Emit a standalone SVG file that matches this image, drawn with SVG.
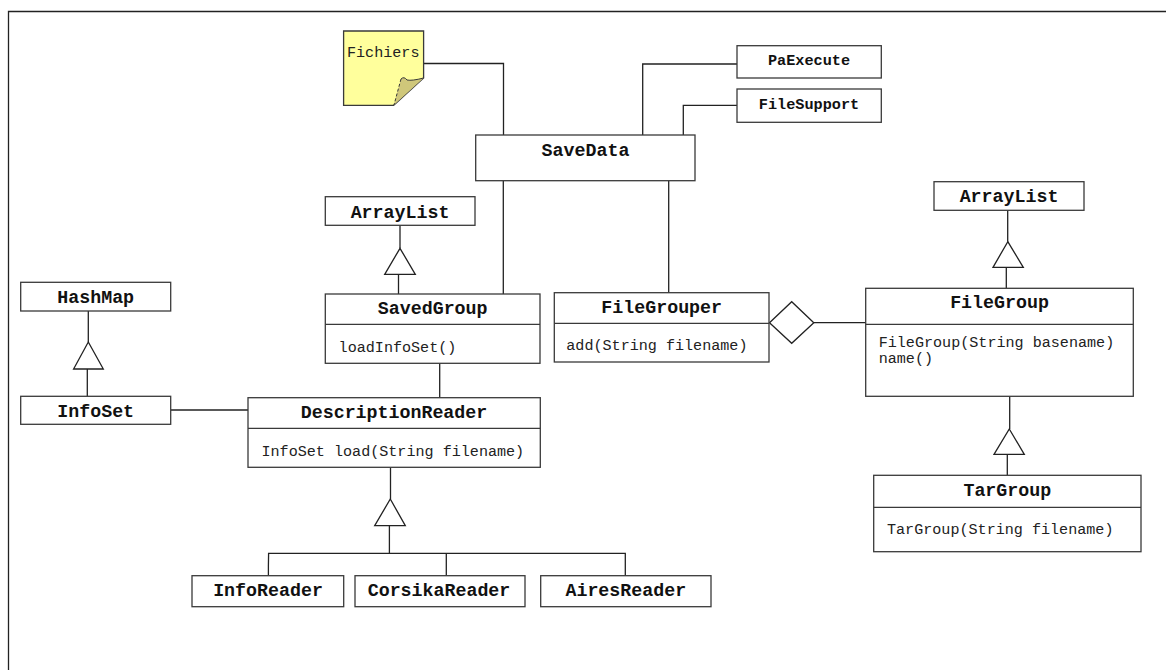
<svg xmlns="http://www.w3.org/2000/svg" width="1166" height="670" viewBox="0 0 1166 670">
<style>
.box{fill:#fff;stroke:#3a3a3a;stroke-width:1.3}
.ln{fill:none;stroke:#222;stroke-width:1.3}
.tri{fill:#fff;stroke:#222;stroke-width:1.3}
.h{font-family:"Liberation Mono",monospace;font-weight:bold;font-size:18.3px;fill:#111;text-anchor:middle}
.s{font-family:"Liberation Mono",monospace;font-weight:bold;font-size:15.2px;fill:#111;text-anchor:middle}
.m{font-family:"Liberation Mono",monospace;font-size:15.1px;fill:#222}
</style>
<rect width="1166" height="670" fill="#fff"/>
<path class="ln" d="M8.5,670 V11.5 H1166"/>

<g id="connectors">
  <!-- Fichiers to SaveData -->
  <path class="ln" d="M423.6,63.5 H503.5 V135"/>
  <!-- PaExecute / FileSupport -->
  <path class="ln" d="M737,64 H642.7 V135"/>
  <path class="ln" d="M737,105.3 H683.3 V135"/>
  <!-- SaveData to SavedGroup / FileGrouper -->
  <path class="ln" d="M503.3,181 V294"/>
  <path class="ln" d="M668.7,181 V292.7"/>
  <!-- ArrayList left <- SavedGroup -->
  <path class="ln" d="M400,225.3 V248.3"/>
  <polygon class="tri" points="400,248.3 415.3,274.3 384.7,274.3"/>
  <path class="ln" d="M398.5,274.3 V294"/>
  <!-- HashMap <- InfoSet -->
  <path class="ln" d="M88.3,311 V342"/>
  <polygon class="tri" points="88.3,342 103.3,369 73.6,369"/>
  <path class="ln" d="M87.3,369 V396.3"/>
  <!-- InfoSet - DescriptionReader -->
  <path class="ln" d="M170.7,410 H248"/>
  <!-- SavedGroup - DescriptionReader -->
  <path class="ln" d="M439.7,363.3 V397.7"/>
  <!-- DescriptionReader <- readers -->
  <path class="ln" d="M390.5,467.3 V499"/>
  <polygon class="tri" points="390.3,499 405.3,525.7 374.7,525.7"/>
  <path class="ln" d="M389.4,525.7 V553.3"/>
  <path class="ln" d="M268.4,575.7 V566 L268.6,553.3 H625.3 V575.7"/>
  <path class="ln" d="M446.3,553.3 V575.7"/>
  <!-- FileGrouper <>- FileGroup -->
  <polygon class="tri" points="769.5,322.7 791.7,301.7 813.8,322.7 791.7,343.3"/>
  <path class="ln" d="M813.8,322.7 H865.7"/>
  <!-- ArrayList right <- FileGroup -->
  <path class="ln" d="M1007.7,210.3 V241.7"/>
  <polygon class="tri" points="1007.8,241.7 1023.3,267.3 993,267.3"/>
  <path class="ln" d="M1006.3,267.3 V288.3"/>
  <!-- FileGroup <- TarGroup -->
  <path class="ln" d="M1009.7,396.3 V429"/>
  <polygon class="tri" points="1009.3,429 1024.3,454.3 994,454.3"/>
  <path class="ln" d="M1007.3,454.3 V475.3"/>
</g>

<g id="Fichiers">
  <polygon points="343.6,31 423.6,31 423.6,78 393.6,105.3 343.6,105.3" fill="#ffff9c" stroke="#3a3a3a" stroke-width="1.3"/>
  <path d="M401,79 Q404,76 407,80 Q412,81 423.6,78 L393.6,105.3 Z" fill="#cfc77a" stroke="none"/>
  <path d="M401,79 Q404,76 407,80 Q412,81 423.6,78" fill="none" stroke="#3a3a3a" stroke-width="1"/>
  <path d="M401,79 L394,105" fill="none" stroke="#3a3a3a" stroke-width="1" stroke-dasharray="3,2"/>
  <text class="m" x="347" y="57" fill="#111">Fichiers</text>
</g>

<g id="PaExecute">
  <rect class="box" x="737" y="45.7" width="144.3" height="32.3"/>
  <text class="s" x="809" y="65">PaExecute</text>
</g>
<g id="FileSupport">
  <rect class="box" x="737" y="89" width="144.3" height="33.3"/>
  <text class="s" x="809" y="109.3">FileSupport</text>
</g>

<g id="SaveData">
  <rect class="box" x="475.7" y="135" width="219.3" height="45.7"/>
  <text class="h" x="585.5" y="155.5">SaveData</text>
</g>

<g id="ArrayList1">
  <rect class="box" x="325.3" y="196.7" width="149.7" height="28.6"/>
  <text class="h" x="400" y="217.5">ArrayList</text>
</g>

<g id="HashMap">
  <rect class="box" x="20.7" y="282.3" width="150" height="28.7"/>
  <text class="h" x="95.7" y="303.3">HashMap</text>
</g>

<g id="SavedGroup">
  <rect class="box" x="325.3" y="294" width="214.7" height="69.3"/>
  <path class="box" d="M325.3,324.3 H540"/>
  <text class="h" x="432.7" y="313.5">SavedGroup</text>
  <text class="m" x="338.6" y="351.7">loadInfoSet()</text>
</g>

<g id="InfoSet">
  <rect class="box" x="20.7" y="396.3" width="150" height="28"/>
  <text class="h" x="95.7" y="416.7">InfoSet</text>
</g>

<g id="DescriptionReader">
  <rect class="box" x="248" y="397.7" width="292.3" height="69.6"/>
  <path class="box" d="M248,428.3 H540.3"/>
  <text class="h" x="394" y="418.3">DescriptionReader</text>
  <text class="m" x="261.5" y="455.7">InfoSet load(String filename)</text>
</g>

<g id="InfoReader">
  <rect class="box" x="192" y="575.7" width="151.7" height="31"/>
  <text class="h" x="268" y="596">InfoReader</text>
</g>
<g id="CorsikaReader">
  <rect class="box" x="355" y="575.7" width="170" height="31"/>
  <text class="h" x="439" y="596">CorsikaReader</text>
</g>
<g id="AiresReader">
  <rect class="box" x="540.7" y="575.7" width="170.3" height="31"/>
  <text class="h" x="625.8" y="596">AiresReader</text>
</g>

<g id="FileGrouper">
  <rect class="box" x="554.3" y="292.7" width="214.7" height="69.3"/>
  <path class="box" d="M554.3,323.3 H769"/>
  <text class="h" x="661.7" y="313.3">FileGrouper</text>
  <text class="m" x="566.3" y="350">add(String filename)</text>
</g>

<g id="ArrayList2">
  <rect class="box" x="934" y="181.7" width="150" height="28.6"/>
  <text class="h" x="1009" y="201.7">ArrayList</text>
</g>

<g id="FileGroup">
  <rect class="box" x="865.7" y="288.3" width="267.6" height="108"/>
  <path class="box" d="M865.7,324.3 H1133.3"/>
  <text class="h" x="999.5" y="308.3">FileGroup</text>
  <text class="m" x="878.7" y="346.7">FileGroup(String basename)</text>
  <text class="m" x="878.7" y="363.3">name()</text>
</g>

<g id="TarGroup">
  <rect class="box" x="873.7" y="475.3" width="267.3" height="76.4"/>
  <path class="box" d="M873.7,507.3 H1141"/>
  <text class="h" x="1007.3" y="495.7">TarGroup</text>
  <text class="m" x="887" y="534">TarGroup(String filename)</text>
</g>
</svg>
